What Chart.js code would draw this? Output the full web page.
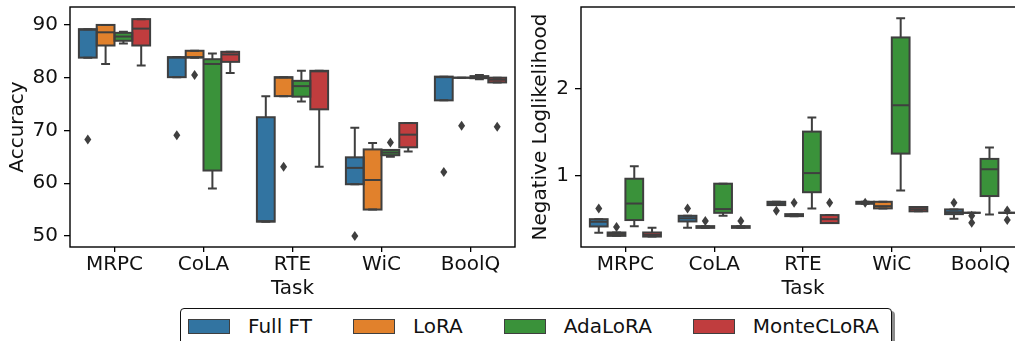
<!DOCTYPE html>
<html>
<head>
<meta charset="utf-8">
<script src="https://cdn.jsdelivr.net/npm/chart.js@4.4.1/dist/chart.umd.min.js"></script>
<style>
  html, body { margin: 0; padding: 0; width: 1015px; height: 341px; overflow: hidden; background: #fff; }
  #left { position: absolute; left: 0; top: 0; }
  #right { position: absolute; left: 520px; top: 0; }
  #legend {
    position: absolute; left: 180px; top: 308px; width: 712px; height: 44px;
    border: 1.3px solid #111; border-radius: 4px; box-sizing: border-box;
    box-shadow: 3px 3px 0 rgba(0, 0, 0, 0.45); background: #fff;
    display: flex; align-items: flex-start; padding: 7px 0 0 7px;
    font-family: 'DejaVu Sans', sans-serif; font-size: 20px; color: #111;
    white-space: nowrap;
  }
  .item { display: flex; align-items: center; margin-right: 41px; flex-shrink: 0; line-height: 20px; }
  .patch { width: 42px; height: 15px; border: 1px solid #3f3f3f; box-sizing: border-box; margin-right: 18px; flex-shrink: 0; }
</style>
</head>
<body>
<canvas id="left" width="520" height="301"></canvas>
<canvas id="right" width="520" height="301"></canvas>
<div id="legend"></div>
<script>
// --- Data: [whisker low, q1, median, q3, whisker high] per task ---
const tasks = ["MRPC", "CoLA", "RTE", "WiC", "BoolQ"];
const methods = ["Full FT", "LoRA", "AdaLoRA", "MonteCLoRA"];
const colors = ["#3274a1", "#e1812c", "#3a923a", "#c03d3e"];
const edge = "#3f3f3f";

const accFull = [[83.8, 83.8, 89.1, 89.2, 89.2], [80.1, 80.1, 83.8, 83.9, 83.9], [52.7, 52.7, 52.8, 72.5, 76.5], [59.8, 59.8, 62.9, 64.9, 70.5], [75.7, 75.7, 80.1, 80.2, 80.2]];
const accLora = [[82.6, 86.1, 88.6, 90.0, 90.0], [83.8, 83.8, 83.9, 85.1, 85.1], [76.5, 76.5, 80.0, 80.1, 80.1], [55.0, 55.0, 60.6, 66.4, 67.6], [80.0, 80.0, 80.0, 80.0, 80.0]];
const accAda = [[86.5, 87.0, 87.8, 88.5, 88.7], [59.0, 62.4, 82.6, 83.5, 84.6], [75.5, 76.4, 78.4, 79.4, 81.3], [65.0, 65.3, 65.8, 66.3, 66.3], [79.7, 79.9, 80.1, 80.3, 80.5]];
const accMonte = [[82.3, 86.1, 89.3, 91.1, 91.1], [80.9, 83.0, 84.4, 84.9, 84.9], [63.1, 74.0, 81.2, 81.3, 81.3], [66.0, 66.8, 69.2, 71.4, 71.4], [79.1, 79.1, 79.6, 80.0, 80.0]];

const accFullOut = [[68.3], [69.1], [], [50.0], [62.1]];
const accLoraOut = [[], [80.5], [63.1], [], [70.9]];
const accAdaOut = [[], [], [], [67.7], []];
const accMonteOut = [[], [], [], [], [70.7]];

const nllFull = [[0.343, 0.416, 0.47, 0.50, 0.50], [0.40, 0.474, 0.51, 0.539, 0.539], [0.662, 0.662, 0.68, 0.70, 0.70], [0.677, 0.677, 0.69, 0.70, 0.70], [0.504, 0.558, 0.58, 0.612, 0.612]];
const nllLora = [[0.308, 0.308, 0.33, 0.347, 0.347], [0.40, 0.40, 0.41, 0.42, 0.42], [0.535, 0.535, 0.545, 0.558, 0.558], [0.624, 0.624, 0.65, 0.70, 0.70], [0.573, 0.573, 0.573, 0.573, 0.573]];
const nllAda = [[0.42, 0.49, 0.68, 0.965, 1.11], [0.54, 0.573, 0.616, 0.908, 0.908], [0.624, 0.81, 1.03, 1.507, 1.67], [0.83, 1.254, 1.81, 2.59, 2.81], [0.555, 0.766, 1.074, 1.193, 1.323]];
const nllMonte = [[0.30, 0.30, 0.32, 0.347, 0.40], [0.40, 0.40, 0.41, 0.42, 0.42], [0.455, 0.455, 0.50, 0.547, 0.547], [0.59, 0.59, 0.615, 0.64, 0.64], [0.573, 0.573, 0.573, 0.573, 0.573]];

const nllFullOut = [[0.624], [0.624], [0.596], [0.69], [0.69]];
const nllLoraOut = [[0.41], [0.48], [0.69], [], [0.54, 0.46]];
const nllAdaOut = [[], [], [], [], []];
const nllMonteOut = [[], [0.48], [0.69], [], [0.60, 0.49]];

const accTicks = [50, 60, 70, 80, 90];
const nllTicks = [1, 2];

const font = { family: "'DejaVu Sans', sans-serif", size: 20 };
const textColor = "#111";

// draws the outlines, medians, whiskers, outliers and the frame on top of the bars
const boxPlugin = {
  id: "boxes",
  afterDatasetsDraw(chart) {
    const ctx = chart.ctx;
    const y = chart.scales.y;
    ctx.save();
    ctx.strokeStyle = edge;
    ctx.fillStyle = edge;
    ctx.lineWidth = 2;
    chart.data.datasets.forEach((ds, i) => {
      chart.getDatasetMeta(i).data.forEach((bar, j) => {
        const x = bar.x, w = bar.width;
        const [lo, q1, med, q3, hi] = ds.stats[j].map((v) => y.getPixelForValue(v));
        ctx.beginPath();
        ctx.moveTo(x, q1); ctx.lineTo(x, lo);
        ctx.moveTo(x, q3); ctx.lineTo(x, hi);
        ctx.moveTo(x - w / 4, lo); ctx.lineTo(x + w / 4, lo);
        ctx.moveTo(x - w / 4, hi); ctx.lineTo(x + w / 4, hi);
        ctx.stroke();
        ctx.strokeRect(x - w / 2, q3, w, q1 - q3);
        ctx.beginPath();
        ctx.moveTo(x - w / 2, med); ctx.lineTo(x + w / 2, med);
        ctx.stroke();
        ds.outliers[j].forEach((v) => {
          const py = y.getPixelForValue(v);
          ctx.beginPath();
          ctx.moveTo(x, py - 5); ctx.lineTo(x + 3.5, py);
          ctx.lineTo(x, py + 5); ctx.lineTo(x - 3.5, py);
          ctx.closePath();
          ctx.fill();
        });
      });
    });
    const a = chart.chartArea;
    ctx.strokeStyle = "#000";
    ctx.lineWidth = 1.4;
    ctx.strokeRect(a.left, a.top, a.right - a.left, a.bottom - a.top);
    ctx.restore();
  },
};

function makeDatasets(stats, outs) {
  return methods.map((m, i) => ({
    label: m,
    data: stats[i].map((s) => [s[1], s[3]]),
    stats: stats[i],
    outliers: outs[i],
    backgroundColor: colors[i],
    borderWidth: 0,
    categoryPercentage: 0.8,
    barPercentage: 1.0,
  }));
}

function makeChart(id, stats, outs, yMin, yMax, yTicks, yTitle, yWidth, titlePad, padRight) {
  const tickGrid = { display: true, drawOnChartArea: false, drawTicks: true, color: "#000", lineWidth: 1.3 };
  return new Chart(document.getElementById(id), {
    type: "bar",
    data: { labels: tasks, datasets: makeDatasets(stats, outs) },
    options: {
      responsive: false,
      animation: false,
      layout: { padding: { top: 7, right: padRight, left: 0, bottom: 0 } },
      plugins: { legend: { display: false }, tooltip: { enabled: false } },
      scales: {
        x: {
          grid: { ...tickGrid, tickLength: 5, offset: false },
          border: { display: false },
          ticks: { color: textColor, font, padding: 1, maxRotation: 0 },
          title: { display: true, text: "Task", color: textColor, font, padding: 0 },
          afterFit: (s) => { s.height = 54; s.paddingLeft = 0; s.paddingRight = 0; },
        },
        y: {
          min: yMin,
          max: yMax,
          afterBuildTicks: (s) => { s.ticks = yTicks.map((v) => ({ value: v })); },
          grid: { ...tickGrid, tickLength: 6 },
          border: { display: false },
          ticks: { color: textColor, font, padding: 6 },
          title: { display: true, text: yTitle, color: textColor, font, padding: { top: titlePad, bottom: 0 } },
          afterFit: (s) => { s.width = yWidth; s.paddingTop = 0; s.paddingBottom = 0; },
        },
      },
    },
    plugins: [boxPlugin],
  });
}

makeChart("left",
  [accFull, accLora, accAda, accMonte], [accFullOut, accLoraOut, accAdaOut, accMonteOut],
  47.9, 93.4, accTicks, "Accuracy", 70, 5.5, 5);
makeChart("right",
  [nllFull, nllLora, nllAda, nllMonte], [nllFullOut, nllLoraOut, nllAdaOut, nllMonteOut],
  0.18, 2.94, nllTicks, "Negative Loglikelihood", 61, 9, 15);

// legend shared by both panels
const legendEl = document.getElementById("legend");
methods.forEach((m, i) => {
  const item = document.createElement("div");
  item.className = "item";
  item.innerHTML = `<span class="patch" style="background:${colors[i]}"></span><span>${m}</span>`;
  legendEl.appendChild(item);
});
</script>
</body>
</html>
